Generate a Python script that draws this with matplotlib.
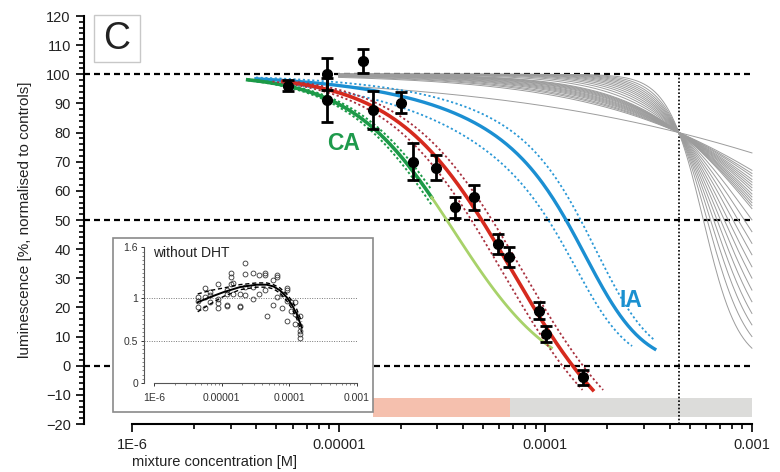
import numpy as np
import matplotlib
matplotlib.use("Agg")
import matplotlib.pyplot as plt
from matplotlib.patches import Rectangle
from matplotlib.ticker import FixedLocator, MultipleLocator, NullFormatter

plt.rcParams["font.family"] = ["Liberation Sans", "DejaVu Sans"]

# measured mixture data (concentration [M], luminescence %, error)
conc = [5.69e-6, 8.81e-6, 8.81e-6, 1.31e-5, 1.46e-5, 2.01e-5, 2.30e-5, 2.96e-5,
        3.67e-5, 4.54e-5, 5.89e-5, 6.70e-5, 9.35e-5, 1.007e-4, 1.53e-4]
lum = [96.1, 100.0, 91.2, 104.6, 87.7, 90.3, 70.0, 68.0,
       54.3, 57.8, 41.8, 37.4, 18.9, 10.9, -4.0]
lum_err = [2.0, 5.5, 7.5, 4.2, 6.6, 3.7, 6.3, 4.3, 3.6, 4.2, 3.5, 3.5, 3.0, 2.6, 2.5]

# fitted mixture curve (top, bottom, log EC50, slope) and its confidence shift
fit_top, fit_bottom, fit_logec, fit_slope = 100, -35, -4.16, 1.56
fit_band = 0.05
# concentration addition prediction
ca_top, ca_bottom, ca_logec, ca_slope = 100, -8, -4.44, 1.75
# independent action prediction: two component terms (log EC50, slope) for fit, lower, upper
ia_fit = [(-3.60, 1.0), (-3.74, 3.0)]
ia_low = [(-3.80, 1.0), (-3.78, 3.3)]
ia_high = [(-3.45, 1.0), (-3.70, 3.0)]
# single substance curves, all crossing at one point
cross_conc, cross_lum = 4.43e-4, 80
gray_slopes = [0.48, 0.83, 0.89, 0.94, 1.0, 1.05, 1.1, 1.15, 1.2, 1.26, 1.31, 1.36,
               1.41, 1.46, 1.51, 1.70, 1.90, 2.10, 2.30, 2.52, 2.74, 2.99, 3.26,
               3.57, 3.93, 4.40, 5.08]

# inset: without DHT
in_conc = [4.40e-6] * 3 + [5.63e-6] * 3 + [6.69e-6] * 3 + [8.89e-6] * 4 + [1.18e-5] * 4 \
    + [1.36e-5] * 3 + [1.49e-5] * 2 + [1.86e-5] * 3 + [2.23e-5] * 4 + [2.94e-5] * 3 \
    + [3.61e-5] * 2 + [4.38e-5] * 3 + [4.63e-5] + [5.82e-5] * 2 + [6.67e-5] * 3 \
    + [7.73e-5] * 2 + [9.38e-5] * 4 + [1.05e-4] * 2 + [1.22e-4] * 3 + [1.45e-4] * 5
in_val = [0.893, 0.964, 1.012, 1.123, 1.012, 0.885, 1.032, 0.960, 1.071,
          1.171, 0.992, 0.940, 0.885, 1.091, 1.044, 0.925, 0.909,
          1.298, 1.250, 1.171, 1.052, 1.179, 1.052, 0.913, 0.901,
          1.409, 1.290, 1.131, 1.032, 1.298, 1.131, 0.992, 1.270, 1.052,
          1.298, 1.270, 1.091, 0.794, 1.210, 0.925, 1.270, 1.250, 1.012,
          0.881, 1.052, 1.123, 1.091, 0.972, 0.734, 0.952, 0.853,
          0.952, 0.813, 0.694, 0.794, 0.675, 0.615, 0.575, 0.536]
in_curve_x = [4.40e-6, 6.69e-6, 1.06e-5, 1.86e-5, 3.30e-5, 4.63e-5, 5.82e-5,
              7.31e-5, 9.16e-5, 1.09e-4, 1.29e-4, 1.53e-4]
in_curve = [0.952, 1.012, 1.071, 1.131, 1.159, 1.159, 1.139, 1.091, 1.012, 0.925, 0.813, 0.655]
in_upper = [1.05, 1.09, 1.12, 1.16, 1.18, 1.18, 1.16, 1.12, 1.05, 0.97, 0.87, 0.72]
in_lower = [0.84, 0.93, 1.02, 1.10, 1.13, 1.13, 1.11, 1.06, 0.97, 0.88, 0.76, 0.60]

x_ticks = [1e-6, 1e-5, 1e-4, 1e-3]
x_ticklabels = ["1E-6", "0.00001", "0.0001", "0.001"]
x_minor = [k * d for d in [1e-6, 1e-5, 1e-4] for k in range(2, 10)]


def hill(x, top, bottom, logec, slope):
    return bottom + (top - bottom) / (1 + (x / 10 ** logec) ** slope)


def ia(x, terms):
    y = 100.0
    for logec, slope in terms:
        y = y * hill(x, 1, 0, logec, slope)
    return y


W, H = 780, 472
fig = plt.figure(figsize=(W / 100, H / 100), dpi=100)


def box(x0, y0, x1, y1):
    return [x0 / W, 1 - y1 / H, (x1 - x0) / W, (y1 - y0) / H]


ax = fig.add_axes(box(84, 16, 754, 424))
ax.set_xscale("log")
ax.set_xlim(10 ** -6.232, 10 ** -2.99)
ax.set_ylim(-20, 120)

# shaded concentration ranges
ax.fill_between([1.46e-5, 6.78e-5], -17.6, -11, color="#f5c0ae", lw=0, zorder=0)
ax.fill_between([6.78e-5, 1e-3], -17.6, -11, color="#dcdcda", lw=0, zorder=0)

# reference lines
for yv in [100, 50, 0]:
    ax.plot([10 ** -6.232, 1e-3], [yv, yv], color="black", lw=1.6,
            ls=(0, (2.7, 1.8)), zorder=1)
ax.plot([cross_conc, cross_conc], [100, -20], color="black", lw=1.2,
        ls=(0, (1, 1.2)), zorder=1)

# single substance curves
xg = np.logspace(-5.0, -3.0, 300)
for h in gray_slopes:
    ec = np.log10(cross_conc * (100 / cross_lum - 1) ** (-1 / h))
    yg = hill(xg, 100, 0, ec, h)
    keep = yg > 3
    ax.plot(xg[keep], yg[keep], color="#9c9c9c", lw=0.7, zorder=2)

# IA
xb = np.logspace(-5.40, -3.47, 300)
ax.plot(xb, ia(xb, ia_fit), color="#1b8fd2", lw=2.4, zorder=3)
xbb = np.logspace(-5.40, -3.58, 300)
ax.plot(xbb, ia(xbb, ia_low), color="#2a98d6", lw=1.3, ls=(0, (1.2, 1.4)), zorder=3)
xbb = np.logspace(-5.40, -3.47, 300)
ax.plot(xbb, ia(xbb, ia_high), color="#2a98d6", lw=1.3, ls=(0, (1.2, 1.4)), zorder=3)

# CA
xc = np.logspace(-5.44, -4.55, 200)
ax.plot(xc, hill(xc, ca_top, ca_bottom, ca_logec, ca_slope), color="#1c9a48", lw=2.6, zorder=4)
for d in [-0.025, 0.025]:
    ax.plot(xc, hill(xc, ca_top, ca_bottom, ca_logec + d, ca_slope), color="#1c9a48",
            lw=1.4, ls=(0, (1.2, 1.2)), zorder=4)
xl = np.logspace(-4.55, -3.97, 100)
ax.plot(xl, hill(xl, ca_top, ca_bottom, ca_logec, ca_slope), color="#a8d26a", lw=2.0, zorder=4)

# fitted mixture curve
xr = np.logspace(-5.27, -3.77, 300)
ax.plot(xr, hill(xr, fit_top, fit_bottom, fit_logec, fit_slope), color="#d62a1e", lw=2.6, zorder=5)
for d in [-fit_band, fit_band]:
    xrb = np.logspace(-5.27 + d, -3.77 + d, 300)
    ax.plot(xrb, hill(xrb, fit_top, fit_bottom, fit_logec + d, fit_slope), color="#a8303e",
            lw=1.3, ls=(0, (1.2, 1.4)), zorder=5)

ax.errorbar(conc, lum, yerr=lum_err, fmt="o", color="black", ms=7, capsize=4,
            elinewidth=2, capthick=2, zorder=6)

ax.text(10 ** -4.977, 76.2, "CA", color="#1e9a4c", fontsize=16.5, fontweight="bold",
        ha="center", va="center", zorder=7)
ax.text(10 ** -3.586, 22.5, "IA", color="#1a90d0", fontsize=16.5, fontweight="bold",
        ha="center", va="center", zorder=7)

# axes styling
for s in ["top", "right"]:
    ax.spines[s].set_visible(False)
ax.spines["left"].set_linewidth(1.5)
ax.spines["bottom"].set_linewidth(1.5)
ax.spines["left"].set_bounds(-20, 120)
ax.spines["bottom"].set_bounds(1e-6, 1e-3)
ax.yaxis.set_major_locator(MultipleLocator(10))
ax.yaxis.set_minor_locator(MultipleLocator(2))
ax.xaxis.set_major_locator(FixedLocator(x_ticks))
ax.set_xticklabels(x_ticklabels)
ax.xaxis.set_minor_locator(FixedLocator(x_minor))
ax.xaxis.set_minor_formatter(NullFormatter())
ax.tick_params(which="major", length=6, width=1.4, labelsize=10.5, colors="#222222")
ax.tick_params(which="minor", length=3.5, width=1.2)
ax.tick_params(axis="x", pad=4)
ax.set_ylabel("luminescence [%, normalised to controls]", fontsize=11, color="#222222")
ax.yaxis.set_label_coords(-0.078, 0.5)
fig.text(132 / W, 1 - 462 / H, "mixture concentration [M]", fontsize=10.5, color="#222222",
         ha="left", va="center")

# panel letter
fig.patches.append(Rectangle((94 / W, 1 - 62 / H), 46 / W, 47 / H, transform=fig.transFigure,
                             fill=False, ec="#c8c8c8", lw=1.0, zorder=3))
fig.text(117 / W, 1 - 39 / H, "C", fontsize=27, ha="center", va="center", color="#222222")

# inset
fig.patches.append(Rectangle((112.7 / W, 1 - 411.7 / H), 260.6 / W, 173.4 / H,
                             transform=fig.transFigure, fc="white", ec="#8a8a8a", lw=1.2, zorder=3))
ins = fig.add_axes(box(144.3, 247.3, 358, 383))
ins.set_zorder(4)
ins.patch.set_alpha(0)
ins.set_xscale("log")
ins.set_xlim(10 ** -6.148, 10 ** -2.981)
ins.set_ylim(0, 1.6)
for yv in [1.0, 0.5]:
    ins.plot([10 ** -6.148, 1e-3], [yv, yv], color="#777777", lw=0.7, ls=(0, (1, 1.5)))
ins.plot(in_conc, in_val, "o", mfc="none", mec="#333333", ms=3.5, mew=0.6)
ins.plot(in_curve_x, in_upper, color="black", lw=1.0, ls=(0, (3, 2)))
ins.plot(in_curve_x, in_lower, color="black", lw=1.0, ls=(0, (3, 2)))
ins.plot(in_curve_x, in_curve, color="black", lw=1.4)
for s in ["top", "right"]:
    ins.spines[s].set_visible(False)
for s in ["left", "bottom"]:
    ins.spines[s].set_color("#555555")
    ins.spines[s].set_linewidth(0.8)
ins.spines["bottom"].set_bounds(1e-6, 1e-3)
ins.yaxis.set_major_locator(FixedLocator([0, 0.5, 1, 1.6]))
ins.set_yticklabels(["0", "0.5", "1", "1.6"])
ins.yaxis.set_minor_locator(MultipleLocator(0.05))
ins.xaxis.set_major_locator(FixedLocator(x_ticks))
ins.set_xticklabels(x_ticklabels)
ins.xaxis.set_minor_locator(FixedLocator(x_minor))
ins.xaxis.set_minor_formatter(NullFormatter())
ins.tick_params(which="major", length=2.5, width=0.7, labelsize=7.5, colors="#333333", pad=2)
ins.tick_params(which="minor", length=1.3, width=0.5, colors="#555555")
ins.tick_params(axis="x", pad=5)
fig.text(153 / W, 1 - 253 / H, "without DHT", fontsize=10, ha="left", va="center",
         color="#222222", zorder=5)

fig.savefig("out.png", dpi=100)
